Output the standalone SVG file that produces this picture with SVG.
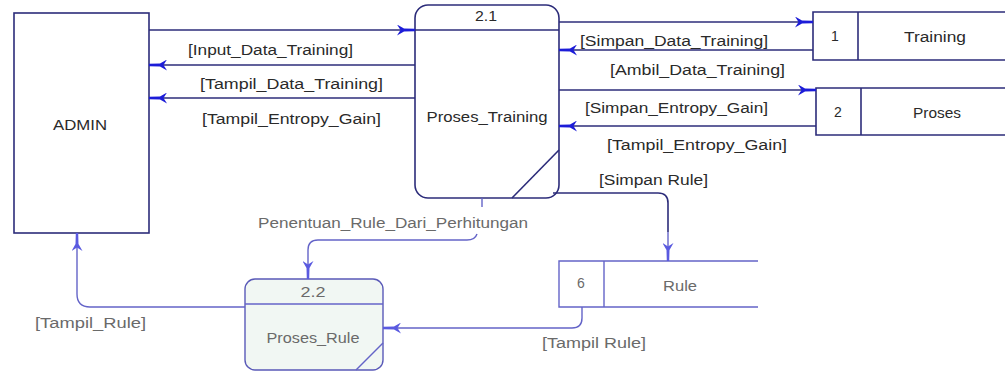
<svg xmlns="http://www.w3.org/2000/svg" width="1005" height="371" viewBox="0 0 1005 371">
<defs>
<style>
.box{fill:#fff;stroke:#2c2c7a;stroke-width:1.6}
.boxl{stroke:#5a5ab8;stroke-width:1.4}
.line{fill:none;stroke:#2c2c7a;stroke-width:1.6}
.linel{fill:none;stroke:#6464c8;stroke-width:1.4}
text{font-family:"Liberation Sans",Arial,sans-serif;font-size:14px;fill:#2a2a2a}
.g{fill:#6a6a6a}
.m{text-anchor:middle}
</style>
<marker id="a" viewBox="0 0 18 11" refX="18" refY="5.5" markerWidth="18" markerHeight="11" markerUnits="userSpaceOnUse" orient="auto">
<path d="M0,0 L7,4 L18,4.3 L18,6.7 L7,7 L0,11 L3.5,5.5 z" fill="#1c1cd8"/>
</marker>
<marker id="b" viewBox="0 0 18 11" refX="18" refY="5.5" markerWidth="18" markerHeight="11" markerUnits="userSpaceOnUse" orient="auto">
<path d="M0,0 L7,4 L18,4.3 L18,6.7 L7,7 L0,11 L3.5,5.5 z" fill="#5a5ae0"/>
</marker>
</defs>
<rect width="1005" height="371" fill="#fff"/>
<g id="admin">
<rect class="box" x="14" y="13" width="135" height="220"/>
<text class="m" x="80" y="130" textLength="54" lengthAdjust="spacingAndGlyphs">ADMIN</text>
</g>
<g id="p21">
<rect class="box" x="415" y="5" width="144" height="193" rx="13"/>
<line class="line" x1="415" y1="30" x2="559" y2="30"/>
<line class="line" x1="559" y1="150" x2="512" y2="198"/>
<text class="m" x="486" y="21" textLength="22" lengthAdjust="spacingAndGlyphs">2.1</text>
<text class="m" x="487" y="122" textLength="121" lengthAdjust="spacingAndGlyphs">Proses_Training</text>
</g>
<g id="store1">
<path class="line" d="M1005,12 H813 V60 H1005"/>
<line class="line" x1="858" y1="12" x2="858" y2="60"/>
<text class="m" x="835" y="41">1</text>
<text class="m" x="935" y="42" textLength="62" lengthAdjust="spacingAndGlyphs">Training</text>
</g>
<g id="store2">
<path class="line" d="M1005,88 H816 V135 H1005"/>
<line class="line" x1="861" y1="88" x2="861" y2="135"/>
<text class="m" x="838" y="117">2</text>
<text class="m" x="937" y="118" textLength="48" lengthAdjust="spacingAndGlyphs">Proses</text>
</g>
<g id="store6">
<path class="linel" d="M758,261 H559 V307 H758"/>
<line class="linel" x1="604" y1="261" x2="604" y2="307"/>
<text class="m g" x="581" y="288">6</text>
<text class="m g" x="680" y="291" textLength="34" lengthAdjust="spacingAndGlyphs">Rule</text>
</g>
<g id="p22">
<rect class="boxl" x="245" y="279" width="138" height="91" rx="10" fill="#f1f7f3"/>
<line class="linel" x1="245" y1="304" x2="383" y2="304"/>
<line class="linel" x1="383" y1="343" x2="356" y2="370"/>
<text class="m g" x="313" y="297" textLength="25" lengthAdjust="spacingAndGlyphs">2.2</text>
<text class="m g" x="313" y="343" textLength="93" lengthAdjust="spacingAndGlyphs">Proses_Rule</text>
</g>
<g id="connectors">
<path class="line" d="M149,30 H415" marker-end="url(#a)"/>
<path class="line" d="M415,65 H149" marker-end="url(#a)"/>
<path class="line" d="M415,98 H149" marker-end="url(#a)"/>
<path class="line" d="M559,22 H813" marker-end="url(#a)"/>
<path class="line" d="M813,50 H559" marker-end="url(#a)"/>
<path class="line" d="M559,90 H816" marker-end="url(#a)"/>
<path class="line" d="M816,126 H559" marker-end="url(#a)"/>
<path class="line" d="M553,193 H658 Q668,193 668,203 V232"/>
<path class="linel" d="M668,232 V261" marker-end="url(#b)"/>
<path class="linel" d="M482,198 V207"/>
<path class="linel" d="M477,234 Q475,240 467,240 H318 Q308,240 308,250 V279" marker-end="url(#b)"/>
<path class="linel" d="M582,307 V318 Q582,328 572,328 H383" marker-end="url(#b)"/>
<path class="linel" d="M245,307 H90 Q77,307 77,294 V233" marker-end="url(#b)"/>
</g>
<g id="labels">
<text x="188" y="55" textLength="165" lengthAdjust="spacingAndGlyphs">[Input_Data_Training]</text>
<text x="200" y="89" textLength="183" lengthAdjust="spacingAndGlyphs">[Tampil_Data_Training]</text>
<text x="202" y="124" textLength="179" lengthAdjust="spacingAndGlyphs">[Tampil_Entropy_Gain]</text>
<text x="580" y="46" textLength="188" lengthAdjust="spacingAndGlyphs">[Simpan_Data_Training]</text>
<text x="610" y="75" textLength="175" lengthAdjust="spacingAndGlyphs">[Ambil_Data_Training]</text>
<text x="585" y="113" textLength="183" lengthAdjust="spacingAndGlyphs">[Simpan_Entropy_Gain]</text>
<text x="607" y="150" textLength="180" lengthAdjust="spacingAndGlyphs">[Tampil_Entropy_Gain]</text>
<text x="599" y="185" textLength="109" lengthAdjust="spacingAndGlyphs">[Simpan Rule]</text>
<text class="g" x="258" y="228" textLength="270" lengthAdjust="spacingAndGlyphs">Penentuan_Rule_Dari_Perhitungan</text>
<text class="g" x="542" y="348" textLength="104" lengthAdjust="spacingAndGlyphs">[Tampil Rule]</text>
<text class="g" x="35" y="328" textLength="111" lengthAdjust="spacingAndGlyphs">[Tampil_Rule]</text>
</g>
</svg>
